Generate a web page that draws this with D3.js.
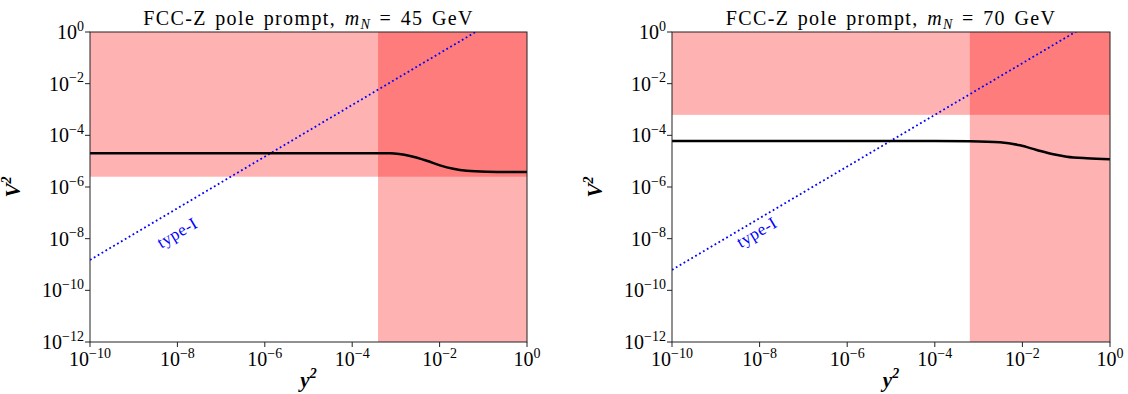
<!DOCTYPE html>
<html><head><meta charset="utf-8">
<script src="https://cdn.jsdelivr.net/npm/d3@7"></script>
<style>
body{margin:0;background:#fff;}
svg{display:block;}
text{font-family:"Liberation Serif","DejaVu Serif",serif;fill:#000;}
</style></head>
<body>
<svg id="chart" width="1128" height="394"></svg>
<script>
// ---- data ----
const panelTitles = ["45", "70"];
const xTickExps = [-10, -8, -6, -4, -2, 0];
const yTickExps = [-12, -10, -8, -6, -4, -2, 0];
// excluded regions: vertical band (y^2 > value), horizontal band (V^2 > value)
const bandY2 = [3.9e-4, 6.3e-4];
const bandV2 = [2.5e-6, 6.2e-4];
// black curve: log10(y^2), log10(V^2)
const curveLeftLogX = [-10, -6, -4, -3.4, -3.135, -2.677, -2.295, -1.991, -1.686, -1.380, -0.922, -0.5, 0];
const curveLeftLogV = [-4.69, -4.69, -4.69, -4.69, -4.695, -4.80, -4.982, -5.161, -5.292, -5.369, -5.408, -5.416, -5.419];
const curveRightLogX = [-10, -6, -4, -3.196, -2.511, -2.055, -1.674, -1.294, -0.989, -0.532, 0];
const curveRightLogV = [-4.219, -4.219, -4.222, -4.232, -4.270, -4.386, -4.568, -4.735, -4.826, -4.890, -4.929];
// type-I seesaw line endpoints (y^2, V^2)
const typeILeft = [[1e-10, 1.5e-9], [1, 15]];
const typeIRight = [[1e-10, 6.2e-10], [1, 6.2]];
const typeILabelAt = [[1.15e-8, 1.1e-8], [1.0e-8, 1.15e-8]];

const svg = d3.select("#chart");
const panels = [
  {left: 90, width: 437, curveX: curveLeftLogX, curveV: curveLeftLogV, typeI: typeILeft},
  {left: 672, width: 438, curveX: curveRightLogX, curveV: curveRightLogV, typeI: typeIRight}
];
const plotTop = 32, plotH = 310;

function sup(sel, base, exp, bsize, esize) {
  sel.append("tspan").attr("font-size", bsize).text(base);
  sel.append("tspan").attr("font-size", esize).attr("dy", -bsize*0.42).text(exp);
}

panels.forEach((p, i) => {
  const g = svg.append("g");
  const x = d3.scaleLog().domain([1e-10, 1]).range([p.left, p.left + p.width]);
  const y = d3.scaleLog().domain([1e-12, 1]).range([plotTop + plotH, plotTop]);
  const cid = "clip" + i;
  svg.append("clipPath").attr("id", cid).append("rect")
    .attr("x", p.left).attr("y", plotTop).attr("width", p.width).attr("height", plotH);
  const pg = g.append("g").attr("clip-path", `url(#${cid})`);
  // shaded bands
  pg.append("rect").attr("x", x(bandY2[i])).attr("y", plotTop)
    .attr("width", x(1) - x(bandY2[i])).attr("height", plotH)
    .attr("fill", "red").attr("fill-opacity", 0.3);
  pg.append("rect").attr("x", p.left).attr("y", plotTop)
    .attr("width", p.width).attr("height", y(bandV2[i]) - plotTop)
    .attr("fill", "red").attr("fill-opacity", 0.3);
  // type-I line
  pg.append("path").datum(p.typeI)
    .attr("d", d3.line().x(d => x(d[0])).y(d => y(d[1])))
    .attr("fill", "none").attr("stroke", "#0000ff").attr("stroke-width", 1.8)
    .attr("stroke-dasharray", "1.8,2.7");
  // black curve
  const pts = p.curveX.map((lx, k) => [Math.pow(10, lx), Math.pow(10, p.curveV[k])]);
  pg.append("path").datum(pts)
    .attr("d", d3.line().curve(d3.curveMonotoneX).x(d => x(d[0])).y(d => y(d[1])))
    .attr("fill", "none").attr("stroke", "#000").attr("stroke-width", 2.5);
  // type-I label
  const lp = typeILabelAt[i];
  const ang = Math.atan2(y(p.typeI[1][1]) - y(p.typeI[0][1]), x(p.typeI[1][0]) - x(p.typeI[0][0])) * 180 / Math.PI;
  g.append("text").attr("transform", `translate(${x(lp[0])},${y(lp[1])}) rotate(${ang})`)
    .attr("text-anchor", "middle").attr("font-size", 17).attr("letter-spacing", 0.5)
    .style("fill", "#0000ff").text("type-I");
  // frame
  g.append("rect").attr("x", p.left).attr("y", plotTop).attr("width", p.width).attr("height", plotH)
    .attr("fill", "none").attr("stroke", "#222").attr("stroke-width", 1);
  // x ticks
  xTickExps.forEach(e => {
    const xv = x(Math.pow(10, e));
    g.append("line").attr("x1", xv).attr("x2", xv).attr("y1", plotTop + plotH).attr("y2", plotTop + plotH + 5)
      .attr("stroke", "#222").attr("stroke-width", 1);
    const t = g.append("text").attr("x", xv).attr("y", plotTop + plotH + 24).attr("text-anchor", "middle");
    sup(t, "10", e === 0 ? "0" : "\u2212" + Math.abs(e), 20, 14);
  });
  yTickExps.forEach(e => {
    const yv = y(Math.pow(10, e));
    g.append("line").attr("x1", p.left - 5).attr("x2", p.left).attr("y1", yv).attr("y2", yv)
      .attr("stroke", "#222").attr("stroke-width", 1);
    const t = g.append("text").attr("x", p.left - 6).attr("y", yv + 7).attr("text-anchor", "end");
    sup(t, "10", e === 0 ? "0" : "\u2212" + Math.abs(e), 20, 14);
  });
  // title
  const cx = p.left + p.width / 2;
  const tt = g.append("text").attr("x", cx).attr("y", 25).attr("text-anchor", "middle")
    .attr("font-size", 20).attr("letter-spacing", 1.4).attr("word-spacing", 2);
  tt.append("tspan").text("FCC-Z pole prompt, ");
  tt.append("tspan").attr("font-style", "italic").text("m");
  tt.append("tspan").attr("font-style", "italic").attr("font-size", 14).attr("dy", 4).text("N");
  tt.append("tspan").attr("dy", -4).text(" = " + panelTitles[i] + " GeV");
  // axis labels
  const xl = g.append("text").attr("x", cx).attr("y", 387).attr("text-anchor", "middle")
    .attr("font-weight", "bold").attr("font-style", "italic");
  sup(xl, "y", "2", 21, 14);
  const yl = g.append("text").attr("transform", `translate(${p.left - 70},${plotTop + plotH / 2}) rotate(-90)`)
    .attr("text-anchor", "middle").attr("font-weight", "bold").attr("font-style", "italic");
  sup(yl, "V", "2", 21, 14);
});
</script>
</body></html>
